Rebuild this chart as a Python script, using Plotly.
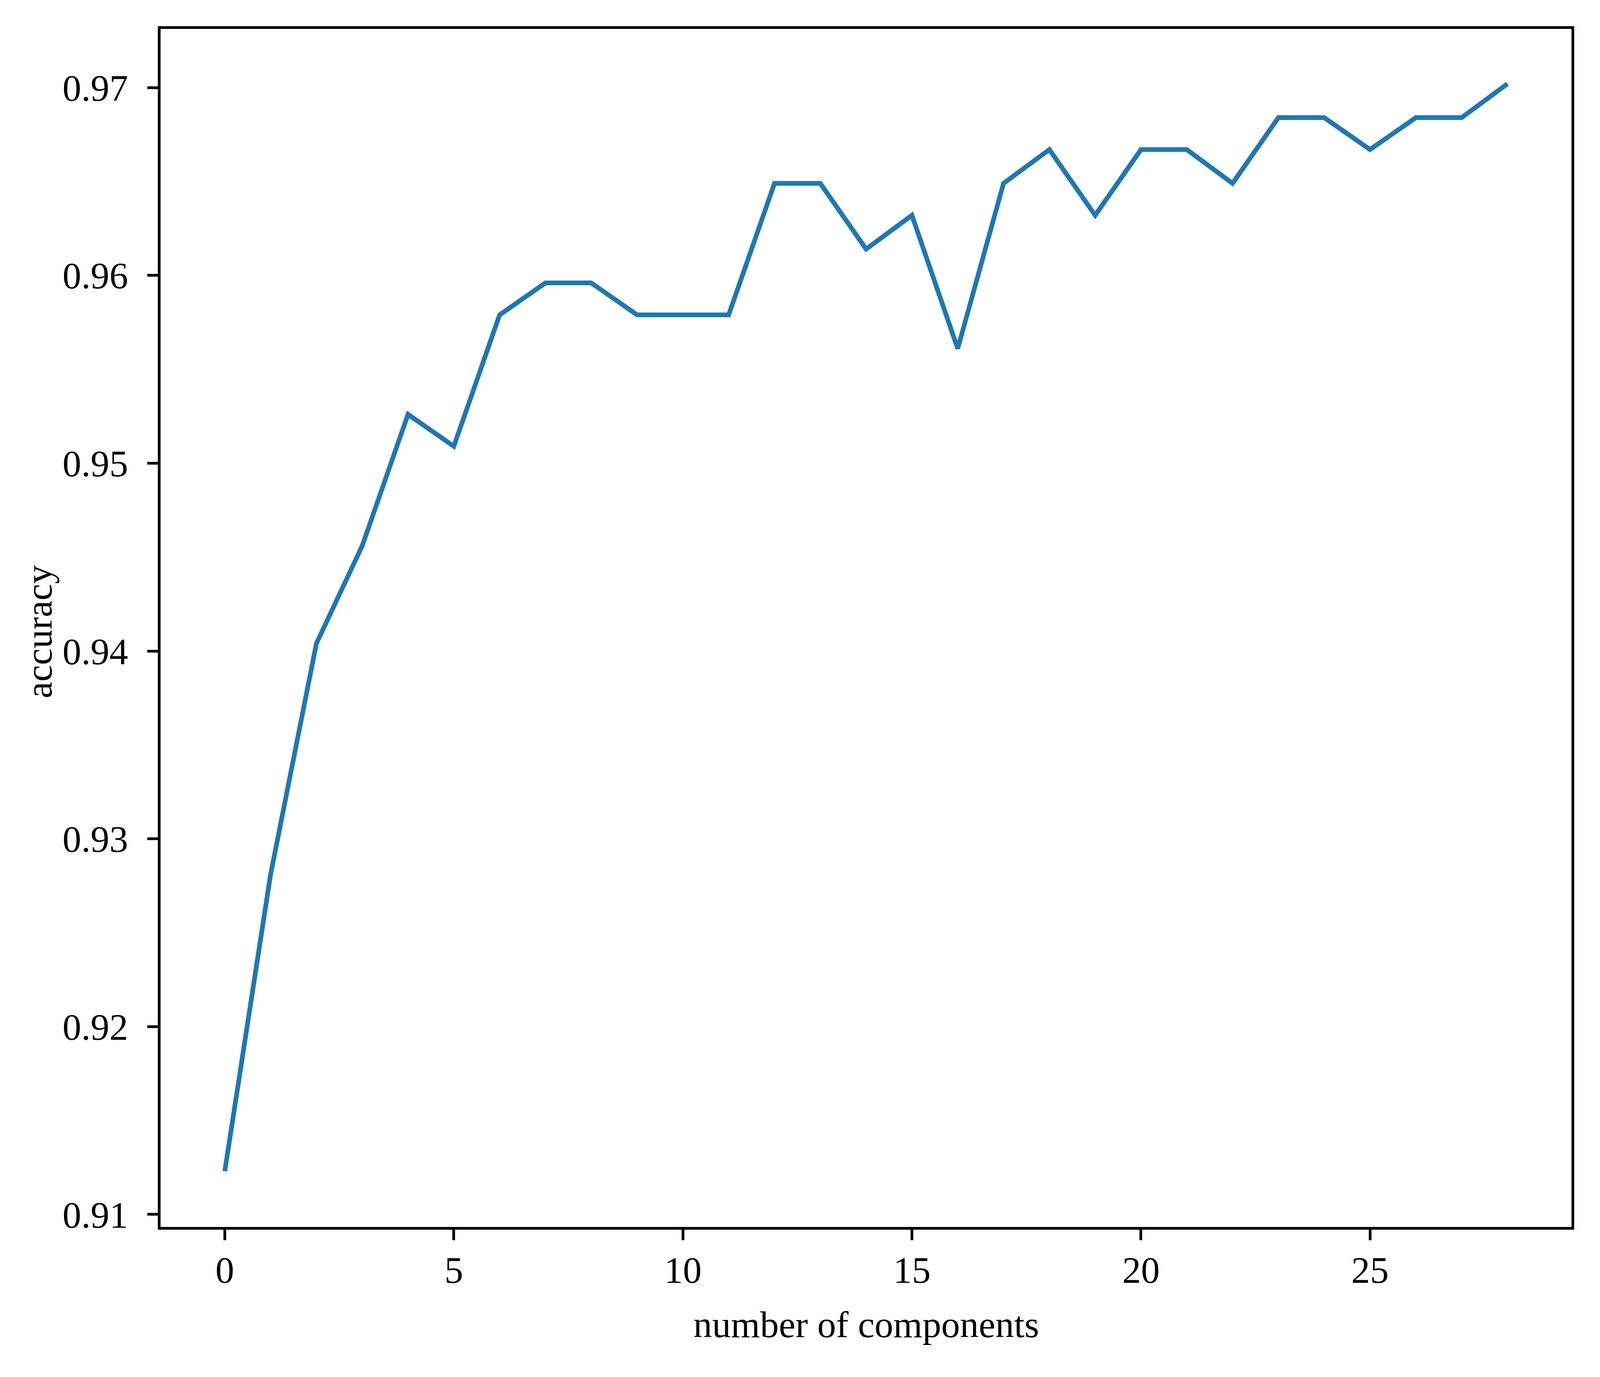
import plotly.graph_objects as go

# number of components vs accuracy
n_components = list(range(29))
accuracy = [0.9123, 0.9281, 0.9404, 0.9456, 0.9526, 0.9509, 0.9579, 0.9596,
            0.9596, 0.9579, 0.9579, 0.9579, 0.9649, 0.9649, 0.9614, 0.9632,
            0.9561, 0.9649, 0.9667, 0.9632, 0.9667, 0.9667, 0.9649, 0.9684,
            0.9684, 0.9667, 0.9684, 0.9684, 0.9702]

x_ticks = [0, 5, 10, 15, 20, 25]
y_ticks = [0.91, 0.92, 0.93, 0.94, 0.95, 0.96, 0.97]

FONT = "Liberation Serif, Times New Roman, serif"
FS = 96

fig = go.Figure()
fig.add_trace(go.Scatter(x=n_components, y=accuracy, mode="lines",
                         line=dict(color="#1f77b4", width=12)))

axis_style = dict(showgrid=False, zeroline=False, showline=True, linecolor="black",
                  linewidth=7, mirror=True, ticks="outside", ticklen=27, tickwidth=7,
                  tickcolor="black", tickfont=dict(family=FONT, size=FS, color="black"),
                  automargin=False)

# plot box placed as a fraction of the page, so it holds whatever the window size
fig.update_xaxes(range=[-1.4, 29.4], tickvals=x_ticks, ticklabelstandoff=-6,
                 domain=[467 / 4725, 4650 / 4725], **axis_style)
fig.update_yaxes(range=[0.90934, 0.97313], tickvals=y_ticks, tickformat=".2f",
                 ticklabelstandoff=30,
                 domain=[1 - 3146 / 3524, 1 - 66 / 3524], **axis_style)

fig.add_annotation(text="number of components", xref="paper", yref="paper",
                   x=(467 + 4650) / 2 / 4725, y=1 - 3397 / 3524,
                   xanchor="center", yanchor="middle", showarrow=False,
                   font=dict(family=FONT, size=FS, color="black"))
fig.add_annotation(text="accuracy", xref="paper", yref="paper",
                   x=106 / 4725, y=1 - 1616 / 3524, textangle=-90,
                   xanchor="center", yanchor="middle", showarrow=False,
                   font=dict(family=FONT, size=FS, color="black"))

fig.update_layout(showlegend=False, autosize=True,
                  plot_bgcolor="white", paper_bgcolor="white",
                  margin=dict(l=0, r=0, t=0, b=0, pad=0),
                  font=dict(family=FONT, color="black"))

fig.write_html("out.html")
